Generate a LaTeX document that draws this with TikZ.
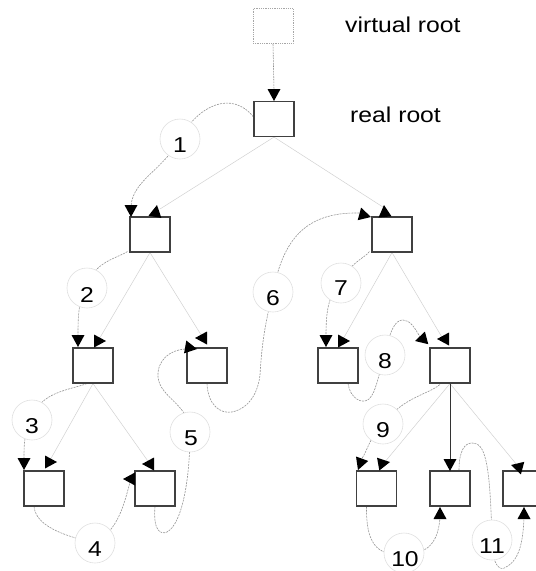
\documentclass[tikz,border=0pt]{standalone}
\usepackage{fontspec}
\setmainfont{Liberation Sans}[FakeStretch=1.15]
\begin{document}
\begin{tikzpicture}[x=1pt,y=-1pt,
  box/.style={draw=black!75,line width=1.1pt,fill=white,minimum width=40pt,minimum height=35pt,inner sep=0pt},
  vbox/.style={box,draw=black!35,line width=0.8pt,densely dotted},
  ring/.style={circle,draw=black!12,line width=0.6pt,fill=white,minimum size=40pt,inner sep=0pt},
  num/.style={font=\fontsize{21.5}{21.5}\selectfont,inner sep=0pt},
  lbl/.style={font=\fontsize{21.5}{21.5}\selectfont,inner sep=0pt,anchor=base west},
  tour/.style={draw=black!42,line width=0.6pt,dash pattern=on 2pt off 1pt},
  treeedge/.style={draw=black!18,line width=0.5pt},
  tri/.pic={\fill[black] (0pt,0pt) -- (-12pt,6.5pt) -- (-12pt,-6.5pt) -- cycle;}]
\useasboundingbox (0,0) rectangle (536,571);
\clip (0,0) rectangle (536,571);

% tree nodes
\node[vbox] (vroot) at (273,26) {};
\node[box] (root) at (274,119) {};
\node[box] (l) at (150,234.5) {};
\node[box] (r) at (392,234.5) {};
\node[box] (a) at (93,365.5) {};
\node[box] (b) at (207,365.5) {};
\node[box] (c) at (338,365.5) {};
\node[box] (d) at (450,365.5) {};
\node[box] (e) at (44,488.5) {};
\node[box] (f) at (155,488.5) {};
\node[box] (g) at (376.5,488.5) {};
\node[box] (h) at (450,488.5) {};
\node[box] (i) at (523,488.5) {};

% arrow ends
\coordinate (vr) at (274,90);
\coordinate (tl) at (160,209);
\coordinate (tr) at (386,209);
\coordinate (ta) at (98,341);
\coordinate (tb) at (203,338);
\coordinate (tc) at (342,341);
\coordinate (td) at (443,339);
\coordinate (te) at (49,462);
\coordinate (tf) at (150,464);
\coordinate (tg) at (384,463);
\coordinate (th) at (450,460);
\coordinate (ti) at (517,465);
\coordinate (u1) at (131,206);
\coordinate (u2) at (78,336);
\coordinate (u3) at (24,458);
\coordinate (u4) at (130,482);
\coordinate (u5) at (185,349);
\coordinate (u6) at (359,213);
\coordinate (u7) at (326,336);
\coordinate (u8) at (420,337);
\coordinate (u9) at (361,460);
\coordinate (u10) at (440,518);
\coordinate (u11) at (524,518);

% centres of the tour step circles
\coordinate (c1) at (180,139);
\coordinate (c2) at (87,288);
\coordinate (c3) at (32,420);
\coordinate (c4) at (95,543);
\coordinate (c5) at (190,432);
\coordinate (c6) at (273,292);
\coordinate (c7) at (341,283);
\coordinate (c8) at (385,355);
\coordinate (c9) at (383,424);
\coordinate (c10) at (404,553);
\coordinate (c11) at (492,540);

% tree edges
\draw[treeedge] (root.south) -- (tl);
\draw[treeedge] (root.south) -- (tr);
\draw[treeedge] (l.south) -- (ta);
\draw[treeedge] (l.south) -- (tb);
\draw[treeedge] (r.south) -- (tc);
\draw[treeedge] (r.south) -- (td);
\draw[treeedge] (a.south) -- (te);
\draw[treeedge] (a.south) -- (tf);
\draw[treeedge] (d.south) -- (tg);
\draw[treeedge] (d.south) -- (ti);
\draw[black!80,line width=1pt] (d.south) -- (th);
\draw[black!70,line width=0.6pt,densely dotted] (vroot.south) -- (vr);

% Euler tour
\draw[tour] ([yshift=-16pt]root.north west) .. controls (232,90) and (198,105) .. (c1)
  .. controls (163,170) and (133,180) .. (u1);
\draw[tour] ([xshift=-2pt,yshift=1pt]l.south west) .. controls (118,258) and (92,262) .. (c2)
  .. controls (78,300) and (78,318) .. (u2);
\draw[tour] ([xshift=-6pt]a.south) .. controls (70,390) and (38,392) .. (c3)
  .. controls (24,432) and (24,445) .. (u3);
\draw[tour] ([xshift=-10pt]e.south) .. controls (36,525) and (60,535) .. (c4)
  .. controls (118,530) and (124,505) .. (u4);
\draw[tour] (f.south) .. controls (153,530) and (160,535) .. (167,532)
  .. controls (182,524) and (190,480) .. (c5)
  .. controls (190,405) and (160,398) .. (158,377)
  .. controls (157,360) and (170,350) .. (u5);
\draw[tour] (b.south) .. controls (208,405) and (220,414) .. (232,412)
  .. controls (250,408) and (258,392) .. (260,375)
  .. controls (262,340) and (266,320) .. (c6)
  .. controls (283,240) and (305,212) .. (u6);
\draw[tour] ([xshift=-2pt,yshift=1pt]r.south west) .. controls (365,258) and (350,262) .. (c7)
  .. controls (328,295) and (326,312) .. (u7);
\draw[tour] ([xshift=10pt]c.south) .. controls (350,398) and (362,405) .. (369,399)
  .. controls (376,392) and (377,380) .. (c8)
  .. controls (390,330) and (395,320) .. (403,320)
  .. controls (410,320) and (415,328) .. (u8);
\draw[tour] ([xshift=-8pt,yshift=1pt]d.south) .. controls (430,395) and (405,395) .. (c9)
  .. controls (368,440) and (368,450) .. (u9);
\draw[tour] ([xshift=-10pt]g.south) .. controls (366,540) and (375,558) .. (c10)
  .. controls (430,555) and (438,540) .. (u10);
\draw[tour] ([xshift=9pt]h.north) .. controls (459,450) and (465,443) .. (472,443)
  .. controls (485,443) and (490,460) .. (c11)
  .. controls (492,565) and (500,572) .. (506,567)
  .. controls (520,560) and (523,540) .. (u11);

% step circles
\foreach \k in {1,...,11} {\node[ring] (r\k) at (c\k) {};}
\node[num] (n1) at (180,145) {1};
\node[num] (n2) at (87,294.5) {2};
\node[num] (n3) at (32,426) {3};
\node[num] (n4) at (95,549) {4};
\node[num] (n5) at (191,438) {5};
\node[num] (n6) at (273,298) {6};
\node[num] (n7) at (341,288.5) {7};
\node[num] (n8) at (385,361) {8};
\node[num] (n9) at (383,430) {9};
\node[num] (n10) at (405,559) {10};
\node[num] (n11) at (492,546) {11};

% redraw boxes over the lines
\foreach \b in {root,l,r,a,b,c,d,e,f,g,h,i} {\node[box] at (\b) {};}

% arrowheads
\pic[rotate=-90] at (274,101) {tri};
\pic[rotate=-90] at (131,217) {tri};
\pic[rotate=80] at (157,205) {tri};
\pic[rotate=-15] at (371,217) {tri};
\pic[rotate=95] at (384,205) {tri};
\pic[rotate=-90] at (78,347) {tri};
\pic[rotate=0] at (106,341) {tri};
\pic[rotate=-10] at (197,349) {tri};
\pic[rotate=180] at (195,338) {tri};
\pic[rotate=-90] at (326,347) {tri};
\pic[rotate=0] at (350,341) {tri};
\pic[rotate=195] at (415,341) {tri};
\pic[rotate=180] at (437,339) {tri};
\pic[rotate=-90] at (24,470) {tri};
\pic[rotate=0] at (57,462) {tri};
\pic[rotate=180] at (123,479) {tri};
\pic[rotate=180] at (142,464) {tri};
\pic[rotate=-110] at (358,470) {tri};
\pic[rotate=10] at (390,462) {tri};
\pic[rotate=-90] at (450,471) {tri};
\pic[rotate=165] at (511,465) {tri};
\pic[rotate=90] at (440,507) {tri};
\pic[rotate=90] at (524,507) {tri};

% labels
\node[lbl] (vlab) at (345,32) {virtual root};
\node[lbl] (rlab) at (350,122) {real root};
\end{tikzpicture}
\end{document}
